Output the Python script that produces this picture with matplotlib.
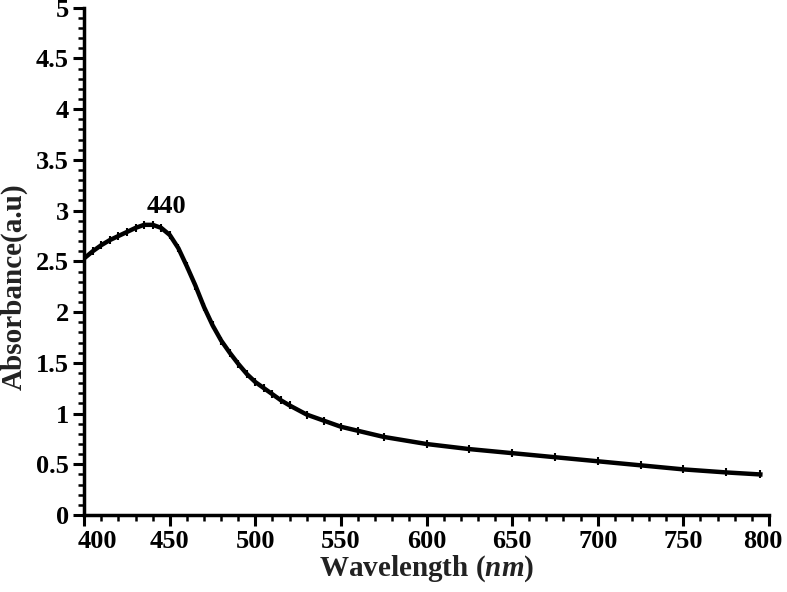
import matplotlib
matplotlib.use("Agg")
import matplotlib.pyplot as plt
from matplotlib.ticker import MultipleLocator

# UV-Vis absorbance spectrum
wavelength = [400, 405, 410, 415, 420, 425, 430, 435, 440, 445, 450, 455, 460,
              465, 470, 475, 480, 485, 490, 495, 500, 505, 510, 515, 520, 530,
              540, 550, 560, 575, 600, 625, 650, 675, 700, 725, 750, 775, 795]
absorbance = [2.53, 2.60, 2.66, 2.71, 2.75, 2.79, 2.83, 2.86, 2.86, 2.83, 2.76,
              2.63, 2.45, 2.26, 2.05, 1.87, 1.72, 1.60, 1.49, 1.39, 1.31, 1.25,
              1.19, 1.13, 1.08, 0.99, 0.93, 0.87, 0.83, 0.77, 0.70, 0.65, 0.61,
              0.57, 0.53, 0.49, 0.45, 0.42, 0.40]
xticks = [400, 450, 500, 550, 600, 650, 700, 750, 800]
xticklabels = ['400', '450', '500', '550', '600', '650', '700', '750', '800']
yticks = [0, 0.5, 1, 1.5, 2, 2.5, 3, 3.5, 4, 4.5, 5]
yticklabels = ['0', '0.5', '1', '1.5', '2', '2.5', '3', '3.5', '4', '4.5', '5']
peak_label = "440"

plt.rcParams['font.family'] = ['Liberation Serif', 'DejaVu Serif']
plt.rcParams['font.weight'] = 'bold'
plt.rcParams['mathtext.fontset'] = 'custom'
plt.rcParams['mathtext.it'] = 'Liberation Serif:bold:italic'
plt.rcParams['mathtext.rm'] = 'Liberation Serif:bold'

fig = plt.figure(figsize=(7.87, 5.92), dpi=100)
ax = fig.add_axes([0.107, 0.130, 0.870, 0.857])

ax.plot(wavelength, absorbance, color='black', lw=3.2, marker='|',
        markersize=6, mew=1.5)
ax.text(448, 2.93, peak_label, fontsize=19, fontweight='bold', ha='center', va='bottom')

ax.set_xlim(400, 800)
ax.set_ylim(0, 5)
ax.set_xticks(xticks)
# the two end labels are drawn separately, nudged inward as in the original
ax.set_xticklabels([''] + xticklabels[1:-1] + [''])
ax.xaxis.set_minor_locator(MultipleLocator(10))
ax.set_yticks(yticks)
ax.set_yticklabels(yticklabels)
ax.yaxis.set_minor_locator(MultipleLocator(0.1))

for s in ['top', 'right']:
    ax.spines[s].set_visible(False)
for s in ['left', 'bottom']:
    ax.spines[s].set_linewidth(2.5)

ax.tick_params(which='major', direction='out', length=8, width=2.2, labelsize=19, pad=3)
ax.tick_params(which='minor', direction='out', length=4, width=1.8)

xform = ax.get_xaxis_transform()
ax.annotate(xticklabels[0], xy=(xticks[0], 0), xycoords=xform, xytext=(-4.5, -11),
            textcoords='offset points', ha='left', va='top', fontsize=19,
            fontweight='bold', annotation_clip=False)
ax.annotate(xticklabels[-1], xy=(xticks[-1], 0), xycoords=xform, xytext=(10, -11),
            textcoords='offset points', ha='right', va='top', fontsize=19,
            fontweight='bold', annotation_clip=False)

ax.set_xlabel(r"Wavelength ($\mathit{nm}$)", fontsize=21, fontweight='bold',
              color='#222222', labelpad=0)
ax.set_ylabel("Absorbance(a.u)", fontsize=21, fontweight='bold', color='#222222')
ax.yaxis.set_label_coords(-0.082, 0.45)

fig.savefig("out.png", dpi=100)
